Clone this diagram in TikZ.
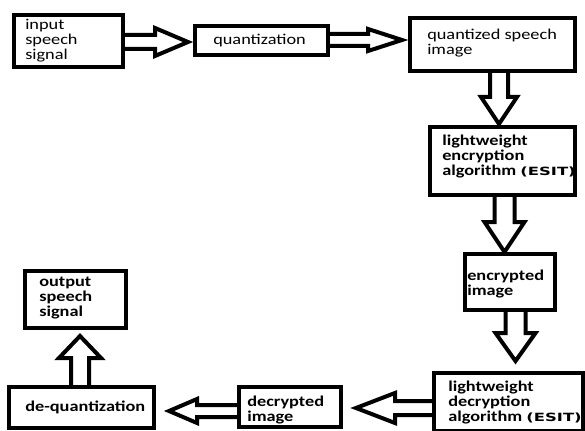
\documentclass[tikz,border=0pt]{standalone}
\usepackage{fontspec}
\setmainfont{Carlito}[FakeStretch=1.22]
\newfontfamily\esitfont{DejaVu Sans}[FakeStretch=1.45]
\usetikzlibrary{calc,fit}
\tikzset{
  box/.style={draw=black, line width=3pt, inner sep=0pt, outer sep=0pt},
  txt/.style={anchor=west, inner sep=0pt, align=left, text=black,
    font=\fontsize{11.25}{11.25}\selectfont},
  btxt/.style={txt, font=\fontsize{11.25}{11.25}\selectfont\bfseries},
  barrow/.style={draw=black, line width=3pt, line join=miter, fill=none},
}
% horizontal block arrow: start, tip, shaft half width, head half width, signed head length
\newcommand\harr[5]{\draw[barrow] ($(#1)+(0,-#3)$) -- ($(#2)+(#5,-#3)$) -- ($(#2)+(#5,-#4)$) -- (#2) -- ($(#2)+(#5,#4)$) -- ($(#2)+(#5,#3)$) -- ($(#1)+(0,#3)$);}
% vertical block arrow
\newcommand\varr[5]{\draw[barrow] ($(#1)+(-#3,0)$) -- ($(#2)+(-#3,#5)$) -- ($(#2)+(-#4,#5)$) -- (#2) -- ($(#2)+(#4,#5)$) -- ($(#2)+(#3,#5)$) -- ($(#1)+(#3,0)$);}
\begin{document}
\begin{tikzpicture}[x=0.75pt, y=-0.75pt]
\useasboundingbox[fill=white] (0,0) rectangle (585,431);

% boxes
\node[box, fit={(14,15) (123,67)}] (b1) {};
\node[box, fit={(195,26) (328,55)}] (b2) {};
\node[box, fit={(410,18) (575,71)}] (b3) {};
\node[box, fit={(430,127) (575,195)}] (b4) {};
\node[box, fit={(465,254) (555,310)}] (b5) {};
\node[box, fit={(434,373) (583,431)}] (b6) {};
\node[box, fit={(239,387) (341,427)}] (b7) {};
\node[box, fit={(9,387) (154,428)}] (b8) {};
\node[box, fit={(25,271) (126,328)}] (b9) {};

% texts
\node[txt] (t1) at (25,41) {input\\speech\\signal};
\node[txt] (t2) at (213,41) {quantization};
\node[txt] (t3) at (427,43.5) {quantized speech\\image};
\node[btxt] (t4) at (442,156.5) {lightweight\\encryption\\algorithm {\esitfont\bfseries\fontsize{8.5}{11.25}\selectfont (ESIT)}};
\node[btxt] (t5) at (467,284.5) {encrypted\\image};
\node[btxt] (t6) at (448,403) {lightweight\\decryption\\algorithm {\esitfont\bfseries\fontsize{8.5}{11.25}\selectfont (ESIT)}};
\node[btxt] (t7) at (247,410) {decrypted\\image};
\node[btxt] (t8) at (25,407) {de-quantization};
\node[btxt] (t9) at (39,298) {output\\speech\\signal};

% arrow end points
\coordinate (a1s) at ($(b1.east)+(0,1)$);
\coordinate (a1t) at (188,42);
\coordinate (a2s) at ($(b2.east)+(0,-0.5)$);
\coordinate (a2t) at (402,40);
\coordinate (a3s) at ($(b3.south)+(6.5,0)$);
\coordinate (a3t) at (499,124);
\coordinate (a4s) at ($(b4.south)+(2,0)$);
\coordinate (a4t) at (504.5,252);
\coordinate (a5s) at ($(b5.south)+(5.5,0)$);
\coordinate (a5t) at (515.5,361);
\coordinate (a6s) at ($(b6.west)+(0,6)$);
\coordinate (a6t) at (356,408);
\coordinate (a7s) at ($(b7.west)+(0,4)$);
\coordinate (a7t) at (169,411);
\coordinate (a8s) at ($(b8.north)+(-1.5,0)$);
\coordinate (a8t) at (80,336);

% block arrows
\harr{a1s}{a1t}{7}{14}{-33}
\harr{a2s}{a2t}{6}{11}{-34}
\varr{a3s}{a3t}{9}{18}{-27}
\varr{a4s}{a4t}{10}{20}{-30}
\varr{a5s}{a5t}{10}{20}{-28}
\harr{a6s}{a6t}{7}{15}{39}
\harr{a7s}{a7t}{6}{12}{28}
\varr{a8s}{a8t}{9}{21}{22}
\end{tikzpicture}
\end{document}
